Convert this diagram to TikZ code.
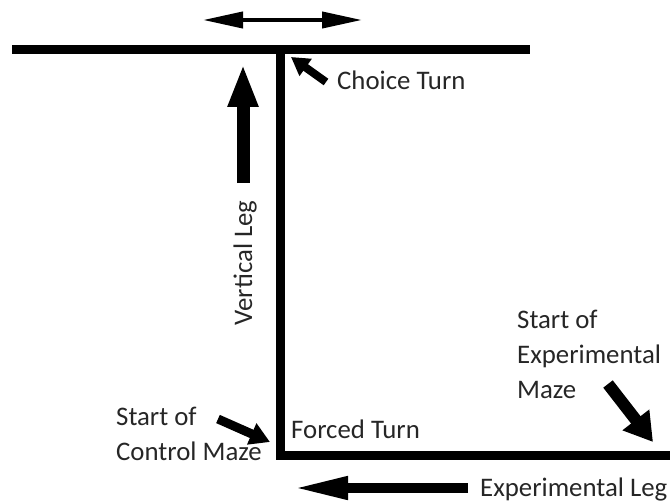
\documentclass[tikz,border=0pt]{standalone}
\usepackage{fontspec}
\setmainfont{Carlito}
\usetikzlibrary{arrows.meta}
\begin{document}
\begin{tikzpicture}[x=1pt,y=-1pt,
  wall/.style={line width=9pt, line join=miter},
  lbl/.style={font=\fontsize{26.8}{35}\selectfont, inner sep=0pt, text=black!85},
  dblarrow/.style={line width=4pt, {Triangle[length=40pt,width=16pt]}-{Triangle[length=40pt,width=16pt]}},
  uparrow/.style={line width=13pt, -{Triangle[length=43pt,width=28pt]}},
  smallarrow/.style={line width=9pt, -{Triangle[length=20pt,width=22pt]}},
  exparrow/.style={line width=12pt, -{Triangle[length=28pt,width=32pt]}},
  legarrow/.style={line width=10pt, -{Triangle[length=56pt,width=21pt]}}
]
\useasboundingbox (0,0) rectangle (670,503);
% maze walls
\coordinate (tl) at (12,49.5);
\coordinate (tr) at (530,49.5);
\coordinate (vtop) at (280,49.5);
\coordinate (corner) at (280,455);
\coordinate (bend) at (675,455);
\draw[wall] (tl) -- (tr);
\draw[wall] (vtop) -- (corner) -- (bend);
% top double arrow
\coordinate (da1) at (203,20);
\coordinate (da2) at (362,20);
\draw[dblarrow] (da1) -- (da2);
% vertical leg arrow
\coordinate (va1) at (243,183);
\coordinate (va2) at (243,64);
\draw[uparrow] (va1) -- (va2);
\node[lbl, rotate=90] (vleg) at (245,263) {Vertical Leg};
% choice turn
\node[lbl, anchor=west] (choice) at (337,80) {Choice Turn};
\coordinate (ca1) at (326,82);
\coordinate (ca2) at (291,57);
\draw[smallarrow, line width=8pt, -{Triangle[length=18pt,width=20pt]}] (ca1) -- (ca2);
% forced turn
\node[lbl, anchor=west] (forced) at (291,429) {Forced Turn};
% start of control maze
\node[lbl, anchor=west, align=left] (control) at (116,434) {Start of\\Control Maze};
\coordinate (sa1) at (218,419);
\coordinate (sa2) at (270,442);
\draw[smallarrow] (sa1) -- (sa2);
% start of experimental maze
\node[lbl, anchor=west, align=left] (exper) at (517,354) {Start of\\Experimental\\Maze};
\coordinate (ea1) at (608,384);
\coordinate (ea2) at (653,442);
\draw[exparrow] (ea1) -- (ea2);
% experimental leg
\coordinate (la1) at (468,488);
\coordinate (la2) at (292,488);
\draw[legarrow] (la1) -- (la2);
\node[lbl, anchor=west] (expleg) at (480,489) {Experimental Leg};
\end{tikzpicture}
\end{document}
